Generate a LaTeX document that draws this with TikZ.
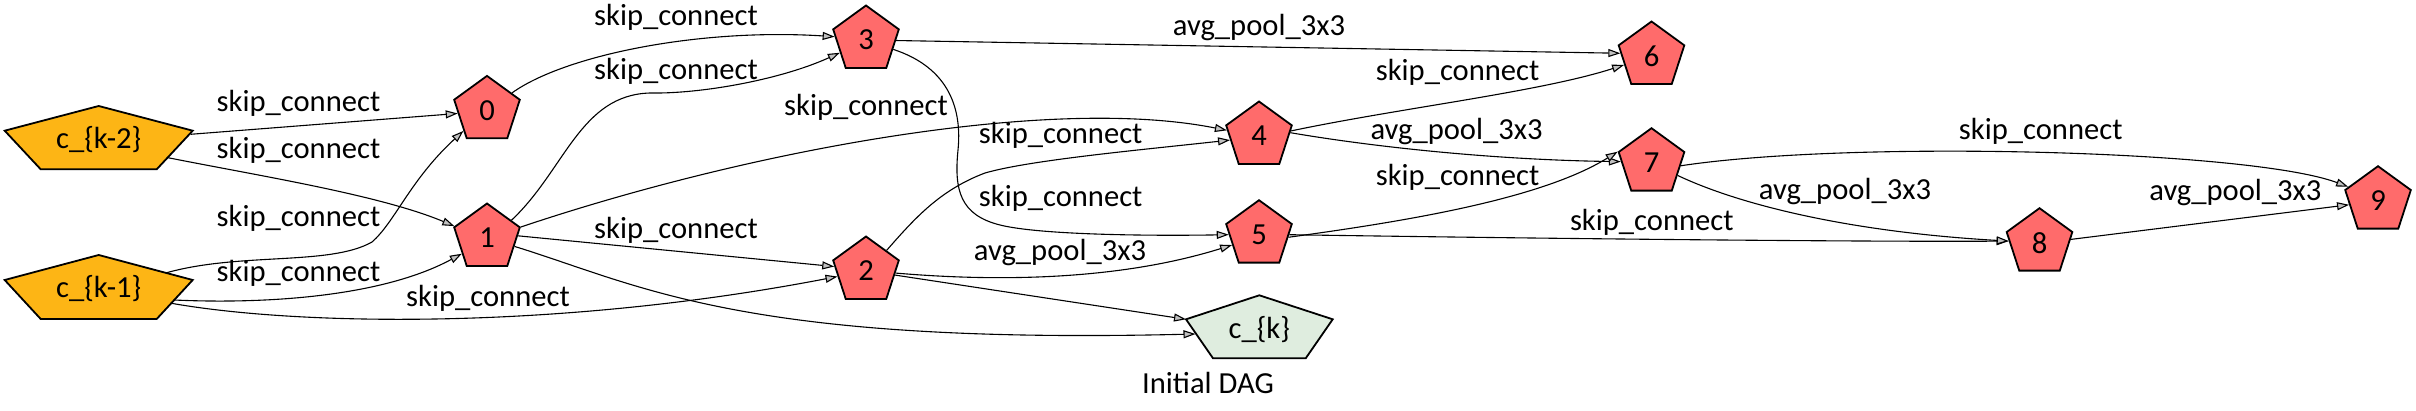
\documentclass[tikz,border=0pt]{standalone}
\usepackage{fontspec}
\setmainfont{Carlito}
\usetikzlibrary{shapes.geometric,arrows.meta}
\definecolor{nodered}{HTML}{FF6B6B}
\definecolor{nodeorange}{HTML}{FDB515}
\definecolor{nodegreen}{HTML}{DFEDDF}
\definecolor{tipgray}{HTML}{C0C0C0}
\begin{document}
\begin{tikzpicture}[x=1pt,y=-1pt,
  font=\fontsize{30.6}{36}\selectfont,
  opnode/.style={regular polygon, regular polygon sides=5, minimum size=69pt, inner sep=0pt, draw=black, line width=1.8pt, fill=nodered},
  txtnode/.style={inner sep=0pt},
  penta/.style={draw=black, line width=1.8pt, line join=miter},
  lbl/.style={inner sep=0pt},
  edge/.style={draw=black, line width=1.1pt, -{Triangle[length=12pt,width=8pt,fill=tipgray]}}
]
\useasboundingbox (0,0) rectangle (2416,411);

% input / output pentagons (stretched)
\draw[penta, fill=nodeorange] (98.7,106) -- (192.7,130.7) -- (156.7,169.3) -- (40.7,169.3) -- (4.7,130.7) -- cycle;
\node[txtnode] (ck2) at (98.7,140) {c\_\{k-2\}};
\draw[penta, fill=nodeorange] (98.7,255) -- (192.7,280) -- (156.7,319) -- (40.7,319) -- (4.7,280) -- cycle;
\node[txtnode] (ck1) at (98.7,289) {c\_\{k-1\}};
\draw[penta, fill=nodegreen] (1259.3,295.3) -- (1332.7,319.3) -- (1305.7,358.3) -- (1213,358.3) -- (1186,319.3) -- cycle;
\node[txtnode] (ck) at (1259.3,330) {c\_\{k\}};
\node[txtnode] (title) at (1208,383) {Initial DAG};

\coordinate (ck2-a) at (190.6,134.3);
\coordinate (ck2-b) at (168,157.7);
\coordinate (ck1-a) at (166,272.9);
\coordinate (ck1-b) at (174.2,300);
\coordinate (ck1-c) at (171.5,303.3);
\coordinate (ck-a) at (1186,319.3);
\coordinate (ck-b) at (1195.5,334);

% operation nodes
\node[opnode] (n0) at (487,110.4) {0};
\node[opnode] (n1) at (487,238) {1};
\node[opnode] (n2) at (866,271) {2};
\node[opnode] (n3) at (866,40) {3};
\node[opnode] (n4) at (1259,136) {4};
\node[opnode] (n5) at (1259,234.7) {5};
\node[opnode] (n6) at (1651.5,56) {6};
\node[opnode] (n7) at (1651.5,162.7) {7};
\node[opnode] (n8) at (2039.5,242.7) {8};
\node[opnode] (n9) at (2378,200.7) {9};

% edges
\draw[edge] (ck2-a) -- (n0.186);
\draw[edge] (ck2-b) .. controls (260,176) and (380,195) .. (n1.160);
\draw[edge] (ck1-a) .. controls (240,252) and (330,266) .. (372,242) .. controls (395,222) and (410,180) .. (n0.221);
\draw[edge] (ck1-b) .. controls (260,304) and (380,298) .. (n1.212);
\draw[edge] (ck1-c) .. controls (300,326) and (560,330) .. (n2.191);
\draw[edge] (n0.35) .. controls (565,55) and (700,28) .. (n3.174);
\draw[edge] (n1.36) .. controls (565,170) and (580,95) .. (650,93) .. controls (700,94) and (780,80) .. (n3.206);
\draw[edge] (n1.18) .. controls (750,150) and (1050,95) .. (n4.170);
\draw[edge] (n1.4) -- (n2.172);
\draw[edge] (n1.-17) .. controls (640,285) and (740,345) .. (ck-b);
\draw[edge] (n2.-8) -- (ck-a);
\draw[edge] (n3.-1) -- (n6.175);
\draw[edge] (n3.-19) .. controls (950,68) and (962,110) .. (958,150) .. controls (954,190) and (960,215) .. (1000,225) .. controls (1040,235) and (1150,236) .. (n5.180);
\draw[edge] (n2.45) .. controls (915,218) and (940,190) .. (985,173) .. controls (1030,160) and (1140,150) .. (n4.188);
\draw[edge] (n2.-4) .. controls (1000,282) and (1120,280) .. (n5.201);
\draw[edge] (n4.9) .. controls (1400,108) and (1540,92) .. (n6.198);
\draw[edge] (n4.6) .. controls (1380,148) and (1500,160) .. (n7.178);
\draw[edge] (n5.-5) .. controls (1400,222) and (1540,200) .. (n7.162);
\draw[edge] (n5.0) .. controls (1500,238) and (1850,242) .. (n8.177);
\draw[edge] (n7.-6) .. controls (1850,140) and (2250,150) .. (n9.155);
\draw[edge] (n7.-26) .. controls (1740,205) and (1850,232) .. (n8.177);
\draw[edge] (n8.6) -- (n9.188);

% edge labels
\node[lbl] (l1) at (298.5,103) {skip\_connect};
\node[lbl] (l2) at (298.5,150) {skip\_connect};
\node[lbl] (l3) at (298.5,218) {skip\_connect};
\node[lbl] (l4) at (298.5,273) {skip\_connect};
\node[lbl] (l5) at (488,298) {skip\_connect};
\node[lbl] (l6) at (676,17) {skip\_connect};
\node[lbl] (l7) at (676,71) {skip\_connect};
\node[lbl] (l8) at (866,107) {skip\_connect};
\node[lbl] (l9) at (676,230) {skip\_connect};
\node[lbl] (l10) at (1060.7,135) {skip\_connect};
\node[lbl] (l11) at (1060.7,198) {skip\_connect};
\node[lbl] (l12) at (1060,253) {avg\_pool\_3x3};
\node[lbl] (l13) at (1259,28) {avg\_pool\_3x3};
\node[lbl] (l14) at (1457.6,72) {skip\_connect};
\node[lbl] (l15) at (1456.6,132) {avg\_pool\_3x3};
\node[lbl] (l16) at (1457.6,177) {skip\_connect};
\node[lbl] (l17) at (1651.8,222) {skip\_connect};
\node[lbl] (l18) at (1845,192) {avg\_pool\_3x3};
\node[lbl] (l19) at (2040.7,131) {skip\_connect};
\node[lbl] (l20) at (2235.4,193) {avg\_pool\_3x3};
\end{tikzpicture}
\end{document}
